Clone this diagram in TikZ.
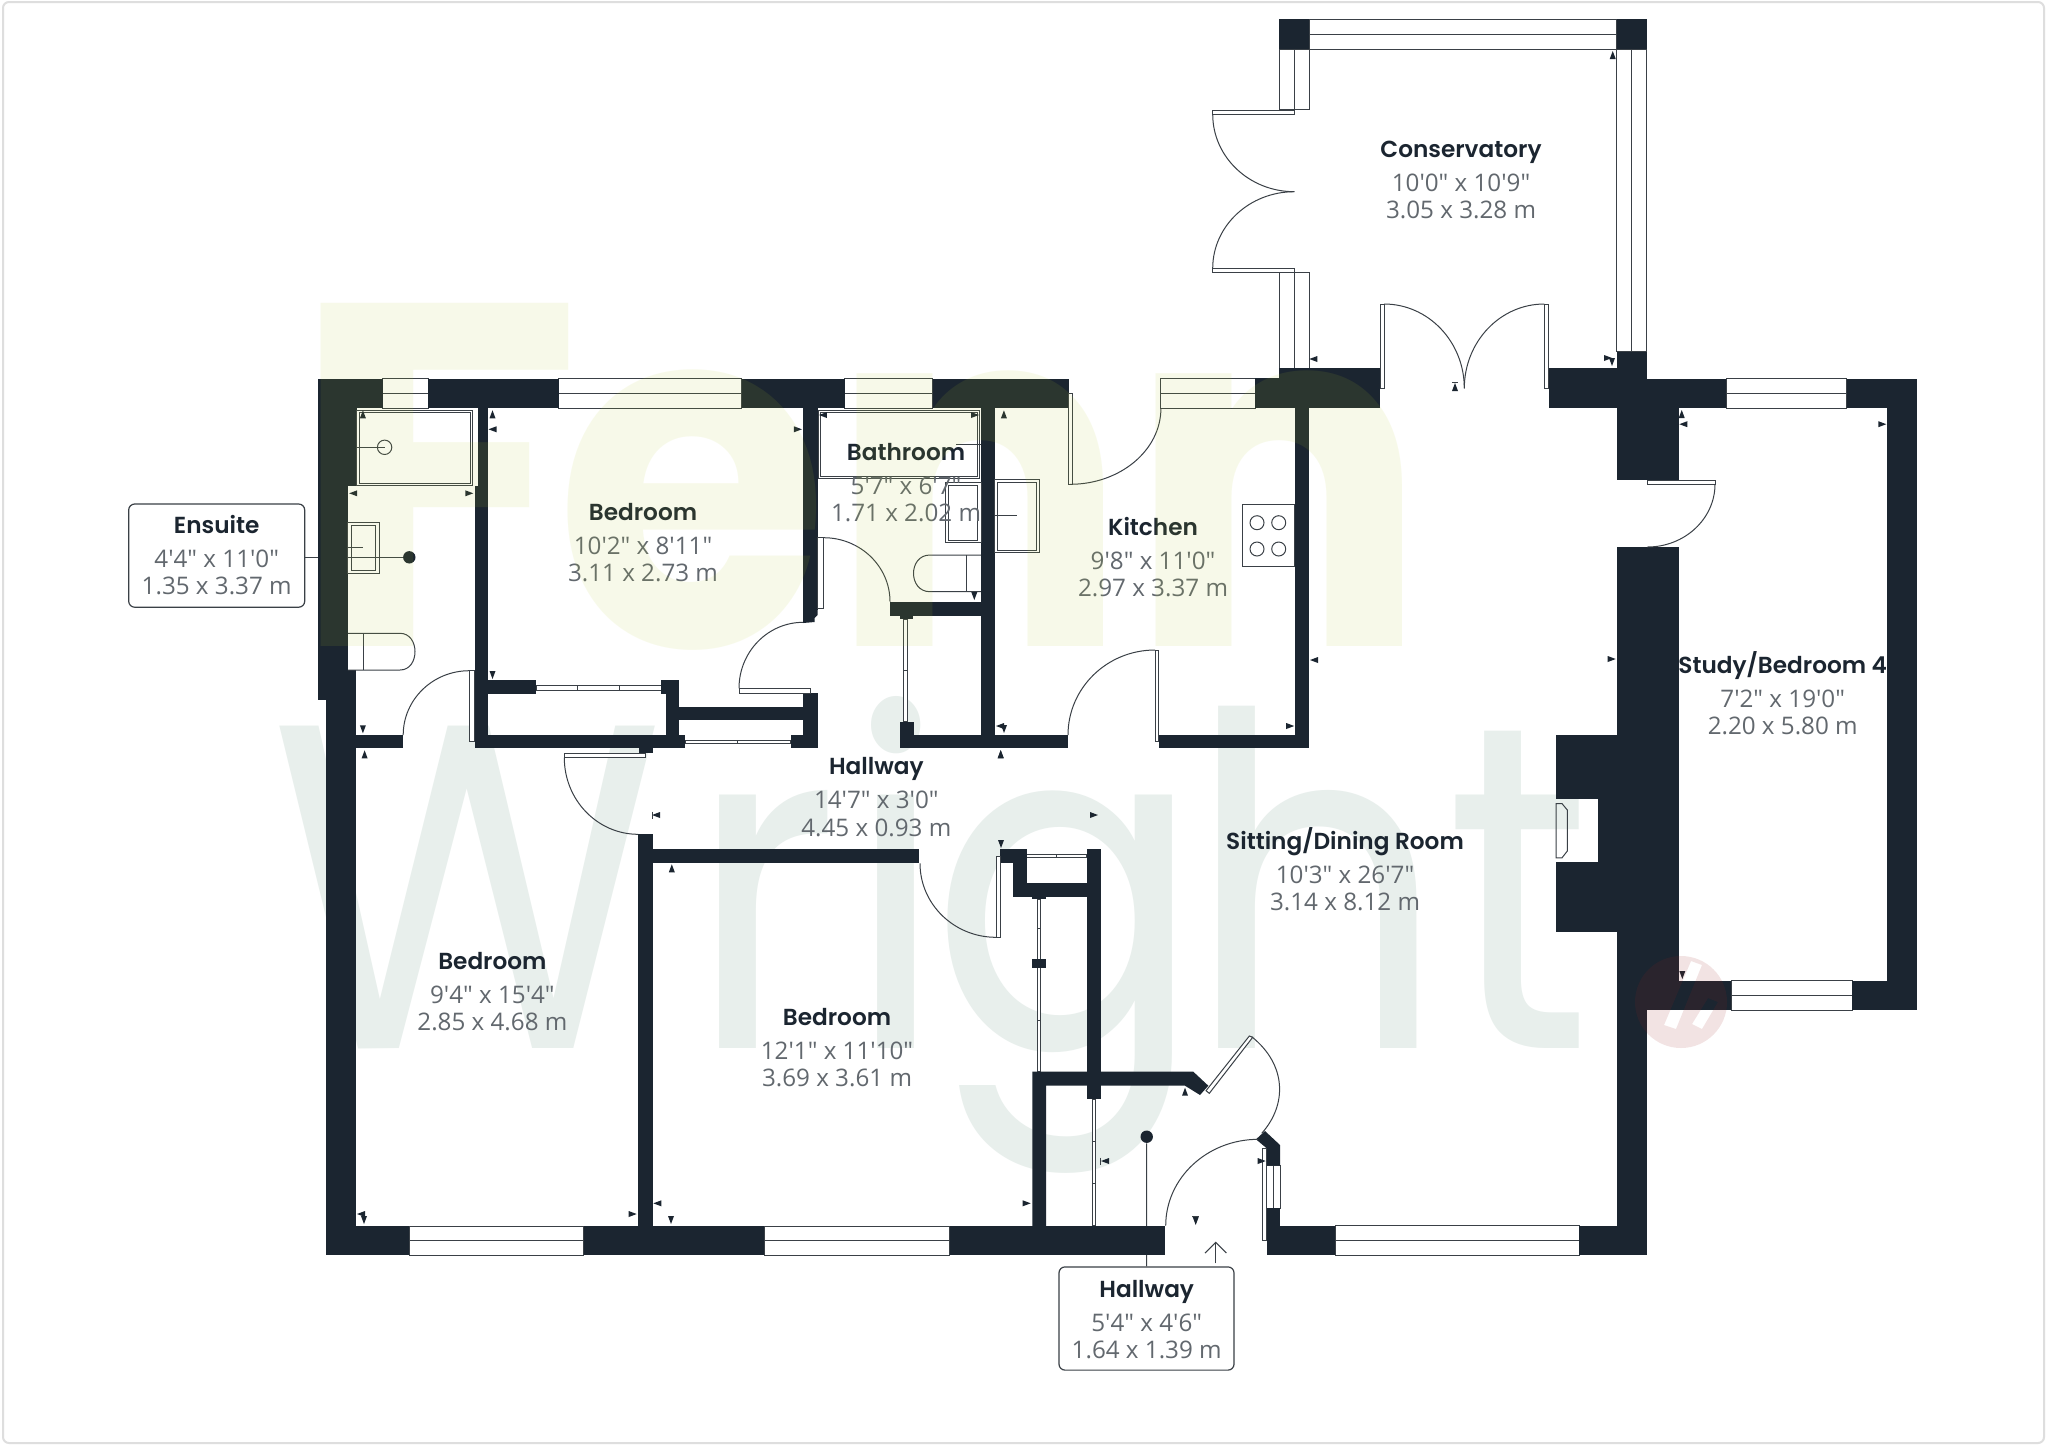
\documentclass[tikz,border=0pt]{standalone}
\usepackage{fontspec}
\usepackage{graphicx}
\usetikzlibrary{calc}
\newfontfamily\dimfam{Open Sans}
\newfontfamily\titlefam{Poppins SemiBold}
\newfontfamily\wmfam{Poppins}
\definecolor{wallc}{HTML}{1B2530}
\definecolor{linec}{HTML}{3A4046}
\definecolor{dimc}{HTML}{62686E}
\definecolor{wrightc}{HTML}{E8EFEC}
\definecolor{fennc}{RGB}{185,205,45}
\definecolor{logoc}{RGB}{155,30,30}
\definecolor{framec}{HTML}{DEDEDE}
\tikzset{
  thinline/.style={draw=linec,line width=0.5pt},
  titletext/.style={anchor=base,inner sep=0pt,text=wallc,font=\titlefam\fontsize{11.6}{14}\selectfont},
  dimtext/.style={anchor=base,inner sep=0pt,text=dimc,font=\dimfam\fontsize{12.1}{14}\selectfont},
  calloutbox/.style={draw=linec,line width=0.6pt,fill=white,rounded corners=3pt,inner sep=0pt,minimum width=88pt,minimum height=51.6pt},
  calloutdot/.style={circle,fill=wallc,inner sep=0pt,minimum size=6.2pt},
}
\def\wl#1#2#3#4{\fill[wallc] (#1,#2) rectangle (#3,#4);}
\def\wnd#1#2#3#4{\draw[thinline,fill=white] (#1,#2) rectangle (#3,#4);}
\def\hwin#1#2#3#4{\wnd{#1}{#2}{#3}{#4}\draw[thinline] (#1,{(#2+#4)/2}) -- (#3,{(#2+#4)/2});}
\def\vwin#1#2#3#4{\wnd{#1}{#2}{#3}{#4}\draw[thinline] ({(#1+#3)/2},#2) -- ({(#1+#3)/2},#4);}
\def\qarc#1#2#3#4#5#6{\draw[thinline] (#1,#2) .. controls ($(#1,#2)!0.552!(#3,#4)$) and ($(#5,#6)!0.552!(#3,#4)$) .. (#5,#6);}
\def\tU#1#2{\fill[wallc] ({#1-3},{#2+4}) -- ({#1+3},{#2+4}) -- (#1,{#2-4}) -- cycle;}
\def\tD#1#2{\fill[wallc] ({#1-3},{#2-4}) -- ({#1+3},{#2-4}) -- (#1,{#2+4}) -- cycle;}
\def\tL#1#2{\fill[wallc] ({#1+4},{#2-3}) -- ({#1+4},{#2+3}) -- ({#1-4},#2) -- cycle;}
\def\tR#1#2{\fill[wallc] ({#1-4},{#2-3}) -- ({#1-4},{#2+3}) -- ({#1+4},#2) -- cycle;}
\def\room#1#2#3#4#5#6{%
  \node[titletext] (#1t) at (#2,{#3+8.3}) {#4};
  \node[dimtext] (#1a) at (#2,{#3+42}) {#5};
  \node[dimtext] (#1b) at (#2,{#3+69.5}) {#6};}
\begin{document}
\begin{tikzpicture}[x=0.5pt,y=-0.5pt]
\useasboundingbox (0,0) rectangle (2048,1446);
\fill[white] (0,0) rectangle (2048,1446);
\draw[framec,line width=1pt,rounded corners=3pt] (3,2) rectangle (2044,1443);
% watermark under the plan
\node[anchor=base west,inner sep=0pt,text=wrightc] (wmwright) at (270,1048)
  {\resizebox{660pt}{176pt}{\wmfam W\kern0.06em r\kern0.018em i\kern-0.04em g\kern-0.04em ht}};
% callouts
\node[calloutbox] (ensuitebox) at (216.7,555.6) {};
\node[calloutbox,minimum width=87.5pt] (hallbox) at (1146.5,1318.5) {};
\node[calloutdot] (ensuitedot) at (409.3,557.3) {};
\node[calloutdot] (halldot) at (1146.7,1136.7) {};
\draw[thinline] (ensuitebox.east |- ensuitedot) -- (ensuitedot);
\draw[thinline] (halldot) -- (hallbox.north);
% windows
\hwin{382.5}{378.7}{428.2}{408.3}
\hwin{558.6}{378.7}{741.8}{408.3}
\hwin{844.6}{378.7}{932.7}{408.3}
\hwin{1160.9}{378.7}{1255.8}{408.3}
\hwin{1726}{378.7}{1846.7}{408.3}
\hwin{1731}{980.6}{1852.3}{1010}
\hwin{409.4}{1226}{583.8}{1255}
\hwin{764.3}{1226}{949.7}{1255}
\hwin{1335}{1225.7}{1579}{1255}
\vwin{1266.7}{1165.7}{1280}{1208.3}
\hwin{1309}{19.3}{1616.7}{49.3}
\vwin{1279.3}{49.3}{1309}{109.3}
\vwin{1279.3}{272.7}{1309}{368.3}
\vwin{1616.7}{49.3}{1646.7}{351.7}
% sliding doors
\wnd{536.4}{685}{661}{690}\draw[thinline] (577.5,685) -- (577.5,690) (619.3,685) -- (619.3,690);
\wnd{685.4}{740}{790.7}{743.3}\draw[thinline] (737.9,740) -- (737.9,743.3);
\wnd{903.9}{619}{907.8}{721.7}\draw[thinline] (903.9,670) -- (907.8,670);
\wnd{1037.3}{899}{1040.7}{1071.7}\draw[thinline] (1037.3,928) -- (1040.7,928) (1037.3,1020) -- (1040.7,1020);
\wnd{1026.7}{854.3}{1086.7}{857.7}\draw[thinline] (1056.7,854.3) -- (1056.7,857.7);
\wnd{1092.3}{1099}{1095.7}{1225.7}\draw[thinline] (1092.3,1141) -- (1095.7,1141) (1092.3,1183) -- (1095.7,1183);
% walls
\wl{317.5}{378.7}{382.5}{408.3}
\wl{317.5}{378.7}{356.8}{485.7}
\wl{317.5}{485.7}{347.9}{670}
\wl{317.5}{670}{356}{700}
\wl{326.4}{700}{356}{1255}
\wl{428.2}{378.7}{558.6}{408.3}
\wl{741.8}{378.7}{844.6}{408.3}
\wl{932.7}{378.7}{1068.8}{408.3}
\wl{1255}{378.3}{1279.3}{408.3}
\wl{1279.3}{368.3}{1380}{408.3}
\wl{1548.7}{368.3}{1646.7}{408.3}
\wl{1616.7}{351.7}{1646.7}{378}
\wl{1279.3}{19.3}{1309}{49.3}
\wl{1616.7}{19.3}{1646.7}{49.3}
\wl{478.2}{408}{488.2}{486}
\wl{474.6}{485.7}{488.2}{748.3}
\wl{803.2}{408}{817.5}{610}
\fill[wallc] (803.2,610) -- (817.5,610) -- (817.5,615) -- (814.5,618) -- (814.5,622) -- (803.2,623) -- cycle;
\wl{981}{408}{994.8}{748.3}
\wl{1295.3}{408}{1309.2}{748.3}
\wl{900}{735}{1068}{748.3}
\wl{900}{721.7}{913.8}{748.3}
\wl{890}{601.7}{981}{615.7}
\wl{900}{615.7}{913}{619}
\wl{1158.9}{735}{1309.2}{748.3}
\wl{488.2}{680}{536.4}{694}
\wl{661}{680}{679}{694}
\wl{665.7}{680}{679}{748.3}
\wl{679}{706.7}{803.2}{720}
\wl{474.6}{735}{685.4}{748.3}
\wl{639}{748.3}{652.5}{753.3}
\wl{790.7}{735}{817.5}{748.3}
\wl{803.2}{693.3}{817.5}{748.3}
\wl{356}{735}{403.2}{748.3}
\wl{638.2}{834.3}{652.5}{1226}
\wl{652.5}{849}{919.3}{863.3}
\wl{1000}{849.3}{1026.7}{863.3}
\wl{1012.7}{863}{1026.7}{897.3}
\wl{1012.7}{883.3}{1086.7}{897.3}
\wl{1086.7}{849.3}{1100.7}{1099}
\wl{1032.3}{897.3}{1046}{899}
\wl{1032.3}{959}{1046}{968.3}
\fill[wallc] (1032.3,1071.7) -- (1193.3,1071.7) -- (1208.3,1085.7) -- (1200,1095) -- (1185,1085.7) -- (1046,1085.7) -- (1046,1226) -- (1032.3,1226) -- cycle;
\wl{325.5}{1226}{409.4}{1255}
\wl{583.8}{1226}{764.3}{1255}
\wl{949.7}{1226}{1165.3}{1255}
\wl{1266.7}{1225.7}{1335}{1255}
\wl{1266.7}{1208.3}{1280}{1226}
\fill[wallc] (1256,1139.3) -- (1265,1131) -- (1280,1145) -- (1280,1165.7) -- (1266.7,1165.7) -- (1266.7,1148.3) -- cycle;
\wl{1579}{1225.7}{1646.7}{1255}
\wl{1646.7}{378.7}{1726}{408.3}
\wl{1846.7}{378.7}{1917.3}{408.3}
\wl{1887.3}{378.7}{1917.3}{1010}
\wl{1616.7}{408}{1678.7}{479.7}
\wl{1616.7}{547}{1678.7}{980.6}
\wl{1616.7}{980}{1646.7}{1255}
\wl{1646.7}{980.6}{1731}{1010}
\wl{1852.3}{980.6}{1917.3}{1010}
\wl{1556}{735}{1616.7}{799.3}
\wl{1598.3}{799.3}{1616.7}{862.2}
\wl{1556}{862.2}{1616.7}{932.4}
% fireplace
\draw[thinline] (1556,803.6) -- (1562,803.6) -- (1567.3,810) -- (1567.3,851) -- (1562,857.8) -- (1556,857.8) -- cycle;
% door leaves
\wnd{469.3}{670.7}{474.6}{741.7}
\wnd{739}{688.3}{810}{693.3}
\wnd{817.5}{537.7}{823.6}{608.3}
\wnd{1068.8}{393.3}{1072.7}{484.3}
\wnd{1155}{650}{1158.9}{741.7}
\wnd{1212.7}{110}{1294.3}{114.3}
\wnd{1212.7}{268.3}{1294.3}{272.7}
\wnd{1380}{304}{1384}{388.3}
\wnd{1544.3}{304}{1548.7}{388.3}
\wnd{1647.3}{480.6}{1715}{484}
\wnd{564.3}{753.3}{645.4}{757.7}
\wnd{996}{856}{1000}{937.3}
\wnd{1262.7}{1148.3}{1266.7}{1240.7}
\draw[thinline,fill=white] (1206,1090.7) -- (1249.3,1036) -- (1252.7,1037.3) -- (1209.3,1093.3) -- cycle;
% door swings
\qarc{403.2}{735}{403.2}{670.7}{469.3}{670.7}
\qarc{739}{688.3}{739}{622.3}{803.2}{622.3}
\qarc{823.6}{537.7}{890}{537.7}{890}{601.7}
\qarc{1070}{484.3}{1160.9}{484.3}{1160.9}{408.3}
\qarc{1155}{650}{1068}{650}{1068}{735}
\qarc{1212.7}{114.3}{1212.7}{191.7}{1294.3}{191.7}
\qarc{1212.7}{268.3}{1212.7}{191.7}{1294.3}{191.7}
\qarc{1384}{304}{1464.3}{304}{1464.3}{388.3}
\qarc{1544.3}{304}{1464.3}{304}{1464.3}{388.3}
\qarc{1715}{484}{1715}{547}{1647.3}{547}
\qarc{564.3}{757.7}{564.3}{834.3}{638.2}{834.3}
\qarc{920}{863.3}{920}{937.3}{996}{937.3}
\qarc{1165.7}{1225.7}{1165.7}{1139.3}{1258.3}{1139.3}
\draw[thinline] (1251.7,1036.7) .. controls (1287,1065) and (1287,1105) .. (1261.7,1133.3);
% ensuite fittings
\draw[thinline] (356.8,410) rectangle (472.9,485.7);
\draw[thinline] (359.5,412.5) rectangle (470.5,483);
\draw[thinline] (384.6,447.3) circle[radius=7.2];
\draw[thinline] (356,447.3) -- (384.6,447.3);
\draw[thinline] (347.9,522.3) rectangle (379,573.3);
\draw[thinline] (351.4,525) rectangle (375.7,570.7);
\draw[thinline] (347.9,547.3) -- (363.2,547.3);
\draw[thinline] (347.9,633.3) -- (400,633.3) .. controls (420,633.3) and (420,670) .. (400,670) -- (347.9,670);
\draw[thinline] (363.2,633.3) -- (363.2,670);
% bathroom fittings
\draw[thinline] (818,410.7) rectangle (979,478.3);
\draw[thinline] (820.4,412.7) rectangle (977,476);
\draw[thinline] (956,444.3) -- (981,444.3);
\draw[thinline] (945.4,482.7) rectangle (981,542.7);
\draw[thinline] (948.2,485.7) rectangle (977.8,540);
\draw[thinline] (981,555) -- (930,555) .. controls (908,555) and (908,591.7) .. (930,591.7) -- (981,591.7);
\draw[thinline] (966,555) -- (966,591.7);
% kitchen fittings
\draw[thinline] (994.8,479.3) rectangle (1039,552.3);
\draw[thinline] (997.6,482) rectangle (1036.3,550);
\draw[thinline] (994.8,515.7) -- (1017.4,515.7);
\draw[thinline] (1242,504.3) rectangle (1294.5,566.7);
\foreach \hx in {1257,1278.7} \foreach \hy in {522.7,549} \draw[thinline] (\hx,\hy) circle[radius=7];
% entrance arrow
\draw[thinline] (1215.7,1263.3) -- (1215.7,1242.3);
\draw[thinline] (1205,1253) -- (1215.7,1242.3) -- (1226.4,1253);
% measuring ticks
\tU{492.5}{414.3}\tL{492.5}{429.3}\tR{797.9}{429.3}\tD{492.5}{675}
\tU{362.9}{414.3}\tL{353.2}{493.3}\tR{469.3}{493.3}\tD{362.9}{729.3}\tU{364.6}{754.3}
\tL{822.9}{415}\tR{975}{415}\tU{1003.9}{414.3}\tD{974.3}{596}
\tL{1000}{726}\tD{1004}{729}\tU{1000.7}{754.3}\tR{1290.2}{726}\tL{1314}{660}
\tU{1612.7}{55}\tL{1313.3}{359}\tD{1612}{362}\tR{1608}{358}
\tU{1455}{387}\draw[thinline] (1452,382) -- (1458,382);
\tU{1681.7}{414}\tL{1683.3}{424.2}\tR{1882.3}{424.2}\tR{1611.7}{659}\tD{1682.3}{975}
\tD{1001}{844}\tU{1185}{1091.7}\tR{1026.7}{1203.3}\tR{1261.7}{1161}
\tL{1105}{1161}\draw[thinline] (1100.5,1157.5) -- (1100.5,1164.5);
\tD{1195.7}{1221}\draw[thinline] (1192,1216) -- (1199.4,1216);
\tL{361}{1214}\tD{364}{1220}\tR{632.7}{1214}\tL{657.3}{1203.3}\tD{671}{1220}
\tL{656}{815}\draw[thinline] (652,811.5) -- (652,818.5);
\tU{671.8}{868.3}\tU{1000.7}{754}\tR{1094}{815}
% labels
\room{con}{1461}{149}{Conservatory}{10'0" x 10'9"}{3.05 x 3.28 m}
\room{bedone}{643}{512}{Bedroom}{10'2" x 8'11"}{3.11 x 2.73 m}
\room{bath}{906}{452}{Bathroom}{5'7" x 6'7"}{1.71 x 2.02 m}
\room{kit}{1153}{527}{Kitchen}{9'8" x 11'0"}{2.97 x 3.37 m}
\room{ens}{216.7}{525}{Ensuite}{4'4" x 11'0"}{1.35 x 3.37 m}
\room{hallone}{876.3}{766.6}{Hallway}{14'7" x 3'0"}{4.45 x 0.93 m}
\room{sit}{1345}{841}{Sitting/Dining Room}{10'3" x 26'7"}{3.14 x 8.12 m}
\room{stu}{1782.7}{665}{Study/Bedroom 4}{7'2" x 19'0"}{2.20 x 5.80 m}
\room{bedtwo}{492.4}{961}{Bedroom}{9'4" x 15'4"}{2.85 x 4.68 m}
\room{bedthree}{837}{1017}{Bedroom}{12'1" x 11'10"}{3.69 x 3.61 m}
\room{halltwo}{1146.7}{1289}{Hallway}{5'4" x 4'6"}{1.64 x 1.39 m}
% overlays
\node[anchor=base west,inner sep=0pt,text=fennc,opacity=0.1] (wmfenn) at (287,646)
  {\resizebox{569pt}{171.5pt}{\wmfam\bfseries\scalebox{1.22}[1]{F}\kern-0.063em enn}};
\fill[logoc,opacity=0.12,even odd rule] (1681,1002) circle[radius=46]
  (1691,961) -- (1702,965) -- (1676,1029) -- (1664,1025) -- cycle
  (1708,998) -- (1718,1002) -- (1702,1029) -- (1692,1024) -- cycle;
\end{tikzpicture}
\end{document}
